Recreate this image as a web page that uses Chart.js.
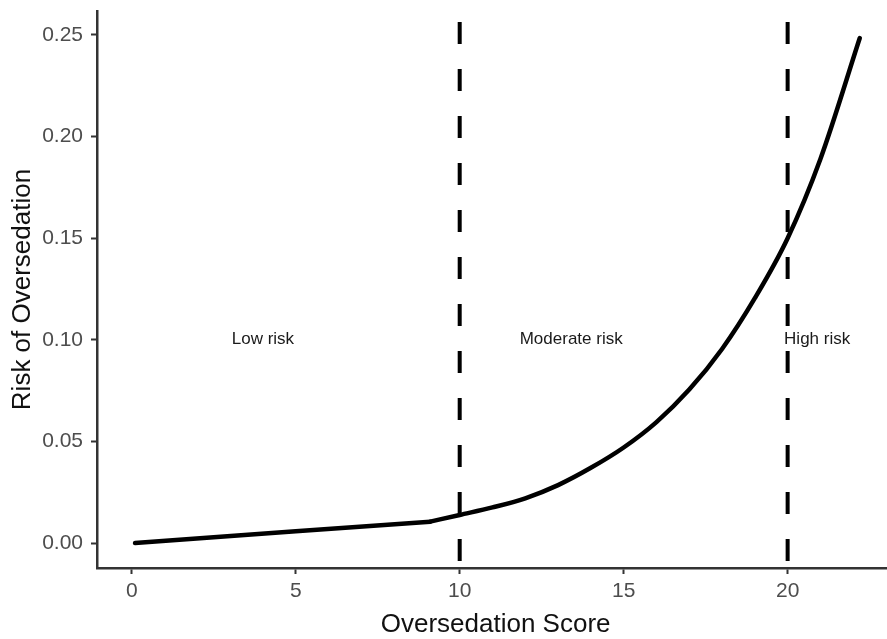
<!DOCTYPE html>
<html>
<head>
<meta charset="utf-8">
<script src="https://cdn.jsdelivr.net/npm/chart.js@4"></script>
<style>
  html, body { margin: 0; padding: 0; background: #fff; }
  canvas { display: block; }
</style>
</head>
<body>
<canvas id="risk-chart" width="887" height="639"></canvas>
<script>
(function () {
  'use strict';

  // values
  const scoreX = [0.1, 5, 9.1, 10, 11, 12, 13, 14, 15, 16, 17, 18, 19, 20, 21, 22.2];
  const riskY = [0.0, 0.0058, 0.0105, 0.0138, 0.0175, 0.022, 0.0285, 0.037, 0.047, 0.0595, 0.0755, 0.0955, 0.1205, 0.150, 0.189, 0.2485];
  const kinkIndex = 2; // curve is straight up to x = 9.1, then bends
  const cutoffs = [10, 20];
  const xTicks = [0, 5, 10, 15, 20];
  const yTicks = [0, 0.05, 0.10, 0.15, 0.20, 0.25];
  const riskLabels = ['Low risk', 'Moderate risk', 'High risk'];
  const riskLabelX = [4, 13.4, 20.9];
  const riskLabelY = [0.10, 0.10, 0.10];

  const X_MIN = -1.06, X_MAX = 23.03;
  const Y_MIN = -0.0123, Y_MAX = 0.2618;
  const FONT = '"Liberation Sans", Arial, Helvetica, sans-serif';

  const curve = scoreX.map((x, i) => ({ x, y: riskY[i] }));
  const lineStyle = { borderColor: '#000', borderWidth: 4.5, pointRadius: 0, borderCapStyle: 'round', borderJoinStyle: 'round' };
  const cutoffSets = cutoffs.map(c => ({
    data: [{ x: c, y: Y_MAX }, { x: c, y: Y_MIN }],
    borderColor: '#000',
    borderWidth: 4,
    borderDash: [22, 25],
    borderDashOffset: 36,
    pointRadius: 0,
  }));

  // text labels for the three risk bands, placed through the scales
  const bandLabels = {
    id: 'bandLabels',
    afterDatasetsDraw(chart) {
      const { ctx, scales: { x, y } } = chart;
      ctx.save();
      ctx.font = '17px ' + FONT;
      ctx.fillStyle = '#1a1a1a';
      ctx.textAlign = 'center';
      ctx.textBaseline = 'middle';
      riskLabels.forEach((t, i) => {
        ctx.fillText(t, x.getPixelForValue(riskLabelX[i]), y.getPixelForValue(riskLabelY[i]));
      });
      ctx.restore();
    },
  };

  const axisGrid = { drawOnChartArea: false, drawTicks: true, tickLength: 6, tickColor: '#333', tickWidth: 2 };
  const axisBorder = { display: true, color: '#333', width: 2.5 };

  new Chart(document.getElementById('risk-chart'), {
    type: 'line',
    data: {
      datasets: [
        { data: curve.slice(0, kinkIndex + 1), ...lineStyle, tension: 0 },
        { data: curve.slice(kinkIndex), ...lineStyle, cubicInterpolationMode: 'monotone' },
        ...cutoffSets,
      ],
    },
    options: {
      responsive: false,
      animation: false,
      layout: { padding: { top: 11, right: 0, left: 0, bottom: 0 } },
      plugins: { legend: { display: false }, tooltip: { enabled: false } },
      scales: {
        x: {
          type: 'linear',
          min: X_MIN,
          max: X_MAX,
          afterBuildTicks: (s) => { s.ticks = xTicks.map(v => ({ value: v })); },
          afterFit: (s) => { s.height = 71; s.paddingLeft = 0; s.paddingRight = 0; },
          ticks: { color: '#4d4d4d', font: { family: FONT, size: 21 }, padding: 5, maxRotation: 0, callback: (v) => String(v) },
          grid: axisGrid,
          border: axisBorder,
          title: { display: true, text: ' Oversedation Score', color: '#111', font: { family: FONT, size: 26, lineHeight: 1 }, padding: { top: 0, bottom: 1 } },
        },
        y: {
          type: 'linear',
          min: Y_MIN,
          max: Y_MAX,
          afterBuildTicks: (s) => { s.ticks = yTicks.map(v => ({ value: v })); },
          afterFit: (s) => { s.width = 97; s.paddingTop = 0; s.paddingBottom = 0; },
          ticks: { color: '#4d4d4d', font: { family: FONT, size: 21 }, padding: 8, callback: (v) => Number(v).toFixed(2) },
          grid: axisGrid,
          border: axisBorder,
          title: { display: true, text: 'Risk of Oversedation', color: '#111', font: { family: FONT, size: 26, lineHeight: 1 }, padding: { top: 10, bottom: 0 } },
        },
      },
    },
    plugins: [bandLabels],
  });
})();
</script>
</body>
</html>
